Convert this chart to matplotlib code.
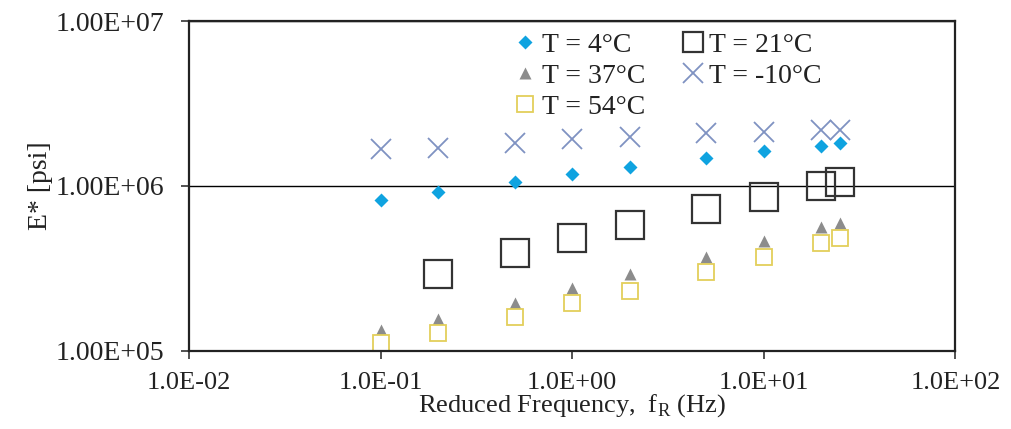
import numpy as np
import matplotlib
matplotlib.use('Agg')
import matplotlib.pyplot as plt
from matplotlib.ticker import FuncFormatter, FixedLocator, NullLocator

plt.rcParams['font.family'] = ['Liberation Serif', 'DejaVu Serif']
plt.rcParams['mathtext.fontset'] = 'custom'
plt.rcParams['mathtext.rm'] = 'Liberation Serif'

freq = [0.1, 0.2, 0.5, 1, 2, 5, 10, 20, 25]
freq_21 = [0.2, 0.5, 1, 2, 5, 10, 20, 25]

E_4 = [8.2e5, 9.2e5, 1.06e6, 1.18e6, 1.30e6, 1.48e6, 1.64e6, 1.75e6, 1.81e6]
E_21 = [2.93e5, 3.94e5, 4.82e5, 5.80e5, 7.26e5, 8.61e5, 9.96e5, 1.05e6]
E_37 = [1.33e5, 1.56e5, 1.95e5, 2.40e5, 2.93e5, 3.73e5, 4.64e5, 5.66e5, 5.94e5]
E_m10 = [1.67e6, 1.71e6, 1.81e6, 1.92e6, 1.97e6, 2.10e6, 2.13e6, 2.18e6, 2.18e6]
E_54 = [1.12e5, 1.29e5, 1.61e5, 1.95e5, 2.32e5, 3.03e5, 3.70e5, 4.50e5, 4.82e5]

fig = plt.figure(figsize=(10.11, 4.29), dpi=100)
ax = fig.add_axes([0.187, 0.182, 0.758, 0.769])

l4, = ax.plot(freq, E_4, 'D', color='#0fa3e0', ms=7, mec='none', label='T = 4°C')
l37, = ax.plot(freq, E_37, '^', color='#8c8c8c', ms=9, mec='none', label='T = 37°C')
l54, = ax.plot(freq, E_54, 's', mfc='white', mec='#e3cf5a', mew=1.3, ms=12, label='T = 54°C')
l21, = ax.plot(freq_21, E_21, 's', mfc='none', mec='#333333', mew=1.6, ms=20, label='T = 21°C')
lm10, = ax.plot(freq, E_m10, 'x', color='#7f92c2', ms=14, mew=1.3, label='T = -10°C')

ax.set_xscale('log')
ax.set_yscale('log')
ax.set_xlim(1e-2, 1e2)
ax.set_ylim(1e5, 1e7)
ax.xaxis.set_major_locator(FixedLocator([1e-2, 1e-1, 1e0, 1e1, 1e2]))
ax.yaxis.set_major_locator(FixedLocator([1e5, 1e6, 1e7]))
ax.xaxis.set_minor_locator(NullLocator())
ax.yaxis.set_minor_locator(NullLocator())
ax.xaxis.set_major_formatter(FuncFormatter(lambda v, p: f'{v:.1E}'))
ax.yaxis.set_major_formatter(FuncFormatter(lambda v, p: f'{v:.2E}'))
ax.tick_params(axis='both', labelsize=20, length=6, width=1.2, color='#333333', labelcolor='#222222')
ax.tick_params(axis='x', labelsize=19, pad=9)
ax.tick_params(axis='y', pad=12)
ax.yaxis.grid(True, color='black', lw=1.0)
ax.set_axisbelow(True)
for s in ax.spines.values():
    s.set_linewidth(1.6)
    s.set_color('#222222')

ax.set_ylabel('E* [psi]', fontsize=20, color='#222222', labelpad=2)
ax.set_xlabel(r'Reduced Frequency,  f$_\mathregular{R}$ (Hz)', fontsize=19, color='#222222', labelpad=-1)

leg = ax.legend(handles=[l4, l37, l54, l21, lm10], ncol=2, loc='upper left',
                bbox_to_anchor=(0.41, 1.0), frameon=False, fontsize=20,
                labelspacing=0.2, handlelength=0.8, handletextpad=0.2,
                columnspacing=1.3, borderaxespad=0.0)
for h, s in zip(leg.legend_handles, [7, 9, 12, 14, 14]):
    h.set_markersize(s)
for t in leg.get_texts():
    t.set_color('#222222')

fig.savefig('out.png', dpi=100)
